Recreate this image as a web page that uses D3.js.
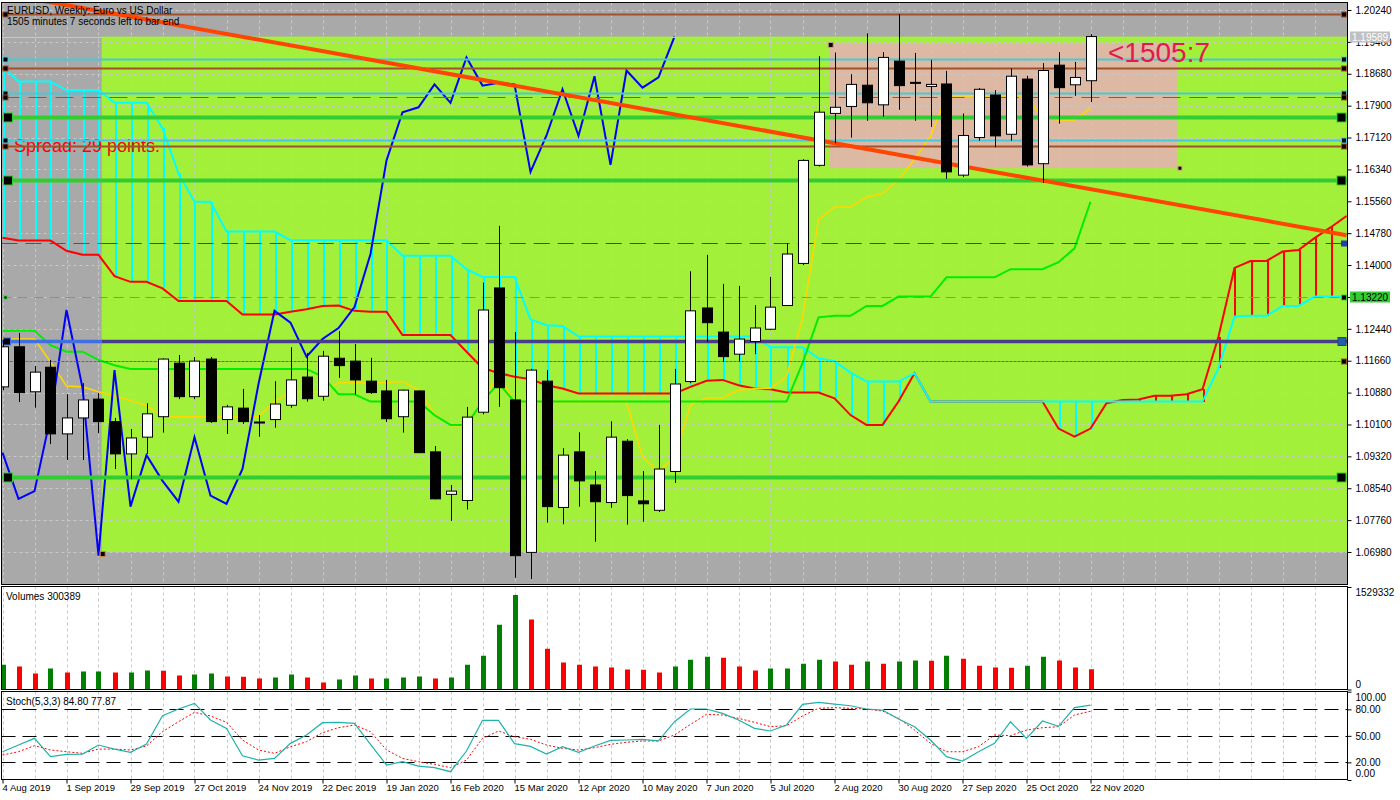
<!DOCTYPE html>
<html>
<head>
<meta charset="utf-8">
<script src="https://cdn.jsdelivr.net/npm/d3@7"></script>
<style>
  html, body { margin: 0; padding: 0; background: #fff; }
  svg { display: block; }
</style>
</head>
<body>
<svg id="chart" width="1400" height="800"></svg>
<script>
// ------- data (weekly EURUSD, bar 0 = 4 Aug 2019) -------
const dateLabels = ["4 Aug 2019","1 Sep 2019","29 Sep 2019","27 Oct 2019","24 Nov 2019","22 Dec 2019",
  "19 Jan 2020","16 Feb 2020","15 Mar 2020","12 Apr 2020","10 May 2020","7 Jun 2020","5 Jul 2020",
  "2 Aug 2020","30 Aug 2020","27 Sep 2020","25 Oct 2020","22 Nov 2020"];
const dateIdx = [0,4,8,12,16,20,24,28,32,36,40,44,48,52,56,60,64,68];

const opens = [1.1102,1.1200,1.1090,1.1150,1.0987,1.1026,1.1072,1.1017,1.0938,1.0979,
  1.1029,1.1160,1.1078,1.1170,1.1022,1.1050,1.1016,1.1022,1.1057,1.1126,
  1.1079,1.1172,1.1165,1.1116,1.1092,1.1029,1.1092,1.0943,1.0839,1.0824,
  1.1040,1.1344,1.1070,1.0697,1.1116,1.0807,1.0943,1.0862,1.0819,1.0969,
  1.0823,1.0800,1.0895,1.1115,1.1295,1.1236,1.1182,1.1213,1.1243,1.1301,
  1.1404,1.1644,1.1771,1.1788,1.1840,1.1792,1.1899,1.1847,1.1837,1.1843,
  1.1620,1.1712,1.1816,1.1720,1.1855,1.1648,1.1889,1.1841,1.1851];
const highs = [1.1217,1.1234,1.1153,1.1168,1.1084,1.1111,1.1087,1.1026,1.0999,1.1062,
  1.1172,1.1180,1.1175,1.1175,1.1058,1.1097,1.1033,1.1116,1.1199,1.1185,
  1.1190,1.1239,1.1207,1.1173,1.1119,1.1095,1.1093,1.0957,1.0862,1.1053,
  1.1357,1.1496,1.1236,1.1146,1.1143,1.0952,1.0991,1.0896,1.1018,1.0974,
  1.0896,1.1009,1.1146,1.1385,1.1425,1.1354,1.1349,1.1302,1.1371,1.1454,
  1.1659,1.1911,1.1920,1.1867,1.1967,1.1921,1.2014,1.1919,1.1902,1.1875,
  1.1771,1.1833,1.1828,1.1881,1.1863,1.1894,1.1921,1.1897,1.1965];
const lows = [1.1094,1.1065,1.1051,1.0962,1.0923,1.0923,1.0989,1.0901,1.0876,1.0938,
  1.0990,1.1072,1.1072,1.1014,1.0987,1.1011,1.0980,1.1002,1.1051,1.1066,
  1.1068,1.1124,1.1083,1.1085,1.1016,1.0990,1.0940,1.0827,1.0774,1.0802,
  1.1035,1.1053,1.0635,1.0632,1.0770,1.0766,1.0809,1.0723,1.0806,1.0765,
  1.0772,1.0796,1.0867,1.1111,1.1212,1.1163,1.1165,1.1182,1.1241,1.1300,
  1.1400,1.1641,1.1698,1.1712,1.1753,1.1763,1.1780,1.1753,1.1738,1.1611,
  1.1615,1.1704,1.1688,1.1704,1.1641,1.1601,1.1746,1.1814,1.1799];
const closes = [1.1200,1.1088,1.1138,1.0987,1.1026,1.1070,1.1017,1.0938,1.0977,1.1036,
  1.1170,1.1078,1.1165,1.1017,1.1053,1.1017,1.1015,1.1060,1.1119,1.1073,
  1.1177,1.1154,1.1119,1.1088,1.1024,1.1094,1.0941,1.0828,1.0847,1.1028,
  1.1290,1.1100,1.0689,1.1143,1.0809,1.0935,1.0872,1.0821,1.0979,1.0836,
  1.0816,1.0901,1.1109,1.1288,1.1259,1.1176,1.1219,1.1246,1.1297,1.1427,
  1.1656,1.1774,1.1786,1.1842,1.1797,1.1908,1.1839,1.1846,1.1842,1.1628,
  1.1717,1.1830,1.1716,1.1862,1.1645,1.1876,1.1834,1.1859,1.1959];

// ichimoku lines
const tenkan = [1.1219,1.1219,1.1219,1.1163,1.1104,1.1102,1.1090,1.1080,1.1068,1.1057,
  1.1029,1.1029,1.1029,1.1029,1.1029,1.1029,1.1029,1.1066,1.1090,1.1090,
  1.1090,1.1112,1.1112,1.1112,1.1112,1.1115,1.1094,1.1036,1.1007,1.1007,
  1.1066,1.1135,1.1065,1.1065,1.1065,1.1065,1.1065,1.1065,1.1065,1.1065,
  1.0931,1.0895,1.0931,1.1057,1.1075,1.1075,1.1094,1.1097,1.1099,1.1127,
  1.1270,1.1511,1.1542,1.1542,1.1566,1.1575,1.1608,1.1659,1.1715,1.1814,
  1.1814,1.1814,1.1814,1.1814,1.1814,1.1760,1.1755,1.1755,1.1783];
const kijun = [1.1239,1.1239,1.1239,1.1204,1.1188,1.1188,1.1168,1.1155,1.1146,1.1146,
  1.1146,1.1146,1.1146,1.1146,1.1146,1.1146,1.1146,1.1146,1.1146,1.1146,
  1.1127,1.1084,1.1084,1.1066,1.1066,1.1066,1.1066,1.1033,1.1009,1.1009,
  1.1066,1.1111,1.1066,1.1066,1.1066,1.1066,1.1066,1.1066,1.1066,1.1066,
  1.1066,1.1066,1.1066,1.1066,1.1066,1.1066,1.1066,1.1066,1.1066,1.1066,
  1.1160,1.1272,1.1276,1.1276,1.1300,1.1300,1.1323,1.1323,1.1323,1.1370,
  1.1370,1.1370,1.1370,1.1390,1.1390,1.1390,1.1407,1.1441,1.1555];
const spanA = [1.1467,1.1460,1.1460,1.1460,1.1435,1.1425,1.1425,1.1373,1.1359,1.1359,
  1.1343,1.1312,1.1312,1.1312,1.1312,1.1279,1.1279,1.1279,1.1286,1.1292,
  1.1300,1.1301,1.1288,1.1286,1.1286,1.1229,1.1229,1.1229,1.1229,1.1188,
  1.1148,1.1136,1.1127,1.1121,1.1106,1.1098,1.1086,1.1086,1.1086,1.1086,
  1.1086,1.1086,1.1086,1.1102,1.1117,1.1119,1.1106,1.1098,1.1096,1.1088,
  1.1088,1.1088,1.1074,1.1033,1.1009,1.1009,1.1066,1.1135,1.1066,1.1066,
  1.1066,1.1066,1.1066,1.1066,1.1066,1.1066,1.1000,1.0980,1.1000,1.1062,
  1.1070,1.1071,1.1080,1.1080,1.1084,1.1096,1.1225,1.1393,1.1410,1.1410,
  1.1433,1.1437,1.1466,1.1492,1.1520];
const spanB = [1.1885,1.1849,1.1849,1.1849,1.1828,1.1828,1.1828,1.1797,1.1797,1.1797,
  1.1735,1.1624,1.1555,1.1555,1.1482,1.1482,1.1482,1.1482,1.1461,1.1461,
  1.1461,1.1461,1.1461,1.1461,1.1461,1.1423,1.1423,1.1423,1.1423,1.1390,
  1.1371,1.1371,1.1371,1.1267,1.1253,1.1251,1.1225,1.1225,1.1225,1.1225,
  1.1225,1.1225,1.1225,1.1225,1.1225,1.1225,1.1225,1.1225,1.1199,1.1199,
  1.1199,1.1172,1.1165,1.1137,1.1115,1.1115,1.1115,1.1135,1.1066,1.1066,
  1.1066,1.1066,1.1066,1.1066,1.1066,1.1066,1.1066,1.1066,1.1066,1.1066,
  1.1066,1.1066,1.1066,1.1066,1.1066,1.1066,1.1148,1.1274,1.1276,1.1276,
  1.1300,1.1300,1.1323,1.1323,1.1323];
const chikouShift = 26;

const volumes = [371000,342000,238000,312000,252000,267000,268000,252000,253000,282000,
  281000,208000,223000,238000,193000,192000,163000,178000,223000,178000,
  104000,148000,208000,163000,164000,178000,193000,163000,178000,371000,
  505000,965000,1411000,1044000,609000,401000,371000,342000,327000,297000,
  296000,252000,342000,445000,490000,475000,342000,282000,312000,313000,
  386000,445000,416000,371000,416000,386000,416000,431000,430000,505000,
  460000,356000,327000,326000,356000,490000,431000,327000,300389];
const volMax = 1529332;

const stochMain = [32,39.6,47.2,26.4,29,29.4,39.6,35,31.3,40.8,
  72.8,80.4,86.8,68,58.5,27.5,22.6,24.5,41.5,51,
  64.9,65.3,64.2,40.4,17,20.7,15.8,14,9.4,32.8,
  67.6,67.6,41.1,38.1,29.4,37.7,31.3,38.5,44.9,45.3,
  46.1,44.2,66,80.4,80.4,75.5,68,58.5,55.5,62.3,
  85.7,88,86,84.1,80.4,79.2,69.1,60.4,45.3,26.4,
  21.5,32,41.5,66,47.2,66.8,60.8,81.9,84.8];
const stochSignal = [28.3,32,38.9,34,32,30.2,35,35,34,38.5,
  54.7,66,76.6,72.5,65.3,45.3,34,30.2,37.7,43.4,
  53.6,59.2,62.3,54.7,34,24.5,20.7,17.7,14,22.6,
  47.2,55.5,49,46.1,39.6,35.9,34,36.6,40.4,42.7,
  44.2,44.2,51,63,74.4,73.6,69.8,65.3,60.4,61.5,
  72.5,81.2,81.9,81.2,80.4,78.1,69.8,56.6,41.5,32,
  32,37.7,51,50.2,56.6,59.2,60.4,73.6,77.87];
const stochLevels = [20, 50, 80];
const stochTicks = [0, 20, 50, 80, 100];

const priceTicks = [1.0698,1.0776,1.0854,1.0932,1.1010,1.1088,1.1166,1.1244,1.1322,
  1.1400,1.1478,1.1556,1.1634,1.1712,1.1790,1.1868,1.1946,1.2024];

// chart objects
const hLevels = [1.2014,1.1904,1.1882,1.1821,1.1812,1.1762,1.1706,1.1692,1.1608,1.1453,1.1322,1.1213,1.1166,1.0882];
const hKinds  = ["brown","cyan","brown","cyan","brownDash","green","cyan","brown","green","darkDash","greenDash","purple","brownDot","green"];
const trendPts = [[2, 1.2050], [84, 1.1473]];
const greenZone = [6.2, 1.0698, 1.19589];        // from bar, low, high
const boxZone = [51.7, 73.4, 1.1637, 1.1941];    // from bar, to bar, low, high
const bidPrice = 1.19589;
const markedPrice = 1.1322;

// ------- layout -------
const svg = d3.select("#chart");
const FONT = "'Liberation Sans', Arial, sans-serif";
const PX0 = 1.5, PX1 = 1347.5;
const mainTop = 2.5, mainBot = 584.5, volTop = 586.5, volBot = 689.5, stTop = 691.5, stBot = 779.5;

const x = d3.scaleLinear().domain([0, 84]).range([2.5, 1346.5]);
const y = d3.scaleLinear().domain([1.0698, 1.2024]).range([552, 10]);
const yv = d3.scaleLinear().domain([0, volMax]).range([689.5, 587]);
const ys = d3.scaleLinear().domain([0, 100]).range([780, 691.7]);
const px = v => Math.round(v) + 0.5;

svg.append("rect").attr("width", 1400).attr("height", 800).attr("fill", "#fff");

const defs = svg.append("defs");
const clip = (id, top, bot) => defs.append("clipPath").attr("id", id)
  .append("rect").attr("x", PX0).attr("y", top).attr("width", PX1 - PX0).attr("height", bot - top);
clip("cMain", mainTop, mainBot);
clip("cVol", volTop, volBot);
clip("cSt", stTop, stBot);

// ===== main panel =====
const gm = svg.append("g").attr("clip-path", "url(#cMain)");
gm.append("rect").attr("x", PX0).attr("y", mainTop).attr("width", PX1 - PX0).attr("height", mainBot - mainTop)
  .attr("fill", "#a9a9a9");
gm.append("rect")
  .attr("x", x(greenZone[0])).attr("y", y(greenZone[2]))
  .attr("width", PX1 - x(greenZone[0])).attr("height", y(greenZone[1]) - y(greenZone[2]))
  .attr("fill", "#a3f03b");
gm.append("rect")
  .attr("x", x(boxZone[0])).attr("y", y(boxZone[3]))
  .attr("width", x(boxZone[1]) - x(boxZone[0])).attr("height", y(boxZone[2]) - y(boxZone[3]))
  .attr("fill", "#ddb8a2");

// grid
const gridX = d3.range(0, 85, 2);
const gridStyle = s => s.attr("stroke", "#c8c8c8").attr("stroke-width", 1).attr("stroke-dasharray", "3,3");
gm.selectAll("line.hg").data(priceTicks).enter().append("line")
  .attr("x1", PX0).attr("x2", PX1).attr("y1", d => px(y(d))).attr("y2", d => px(y(d)))
  .call(gridStyle);
[["cMain", mainTop, mainBot], ["cVol", volTop, volBot], ["cSt", stTop, stBot]].forEach(([id, t, b]) => {
  svg.append("g").attr("clip-path", `url(#${id})`).selectAll("line").data(gridX).enter().append("line")
    .attr("x1", d => px(x(d))).attr("x2", d => px(x(d)))
    .attr("y1", t).attr("y2", b).call(gridStyle);
});

// ichimoku cloud hatch
const gi = svg.append("g").attr("clip-path", "url(#cMain)");
gi.selectAll("line.hatch").data(spanA.map((a, i) => ({ i, a, b: spanB[i] }))).enter().append("line")
  .attr("x1", d => px(x(d.i))).attr("x2", d => px(x(d.i)))
  .attr("y1", d => y(d.a)).attr("y2", d => y(d.b))
  .attr("stroke", d => d.b > d.a ? "#00ffff" : "#ff0000").attr("stroke-width", 2)
  .attr("shape-rendering", "crispEdges");

const lineOf = arr => d3.line().x((d, i) => x(i)).y(d => y(d))(arr);
gi.append("path").attr("d", lineOf(spanA)).attr("fill", "none").attr("stroke", "#ff0000").attr("stroke-width", 2);
gi.append("path").attr("d", lineOf(spanB)).attr("fill", "none").attr("stroke", "#00ffff").attr("stroke-width", 2);
gi.append("path").attr("d", lineOf(tenkan)).attr("fill", "none").attr("stroke", "#ffd700").attr("stroke-width", 1.6);
gi.append("path").attr("d", lineOf(kijun)).attr("fill", "none").attr("stroke", "#00ee00").attr("stroke-width", 2);
gi.append("path").attr("d", lineOf(closes.slice(chikouShift))).attr("fill", "none")
  .attr("stroke", "#0000ff").attr("stroke-width", 2);

// spread text (under the object lines)
gi.append("text").attr("x", 14).attr("y", 152).attr("fill", "#ff0000")
  .style("font-family", FONT).style("font-size", "18px").text("Spread: 29 points.");

// horizontal object lines
const go = svg.append("g").attr("clip-path", "url(#cMain)");
const kindStyle = {
  brown:     { c: "#a0522d", w: 2, dash: null },
  cyan:      { c: "#48c8d8", w: 2, dash: null },
  brownDash: { c: "#a0522d", w: 1, dash: "18,9" },
  green:     { c: "#32cd32", w: 4, dash: null },
  darkDash:  { c: "#45426e", w: 1.2, dash: "16,8", left: "#3050d0" },
  greenDash: { c: "#32cd32", w: 1, dash: "10,6" },
  purple:    { c: "#483d8b", w: 3.5, dash: null, left: "#4070e0" },
  brownDot:  { c: "#a0522d", w: 1, dash: "3,1" }
};
hLevels.forEach((p, k) => {
  const st = kindStyle[hKinds[k]];
  const yy = px(y(p));
  const seg = (x1, x2, col) => go.append("line").attr("x1", x1).attr("x2", x2).attr("y1", yy).attr("y2", yy)
    .attr("stroke", col).attr("stroke-width", st.w).attr("stroke-dasharray", st.dash);
  if (st.left) { seg(PX0, x(greenZone[0]), st.left); seg(x(greenZone[0]), PX1, st.c); }
  else seg(PX0, PX1, st.c);
});

// bid line
go.append("line").attr("x1", PX0).attr("x2", PX1)
  .attr("y1", px(y(bidPrice))).attr("y2", px(y(bidPrice)))
  .attr("stroke", "#c8c8c8").attr("stroke-width", 1);

// trend line
go.append("path").attr("d", d3.line().x(d => x(d[0])).y(d => y(d[1]))(trendPts))
  .attr("fill", "none").attr("stroke", "#ff4500").attr("stroke-width", 4);

// candles
const gc = svg.append("g").attr("clip-path", "url(#cMain)");
const bars = opens.map((o, i) => ({ i, o, h: highs[i], l: lows[i], c: closes[i] }));
gc.selectAll("line.wick").data(bars).enter().append("line")
  .attr("x1", d => px(x(d.i))).attr("x2", d => px(x(d.i)))
  .attr("y1", d => y(d.h)).attr("y2", d => y(d.l))
  .attr("stroke", "#000").attr("stroke-width", 1);
gc.selectAll("rect.body").data(bars).enter().append("rect")
  .attr("x", d => Math.round(x(d.i)) - 4.5)
  .attr("y", d => y(Math.max(d.o, d.c)))
  .attr("width", 10)
  .attr("height", d => Math.max(1, y(Math.min(d.o, d.c)) - y(Math.max(d.o, d.c))))
  .attr("fill", d => d.c >= d.o ? "#fff" : "#000")
  .attr("stroke", "#000").attr("stroke-width", 1);

// anchor markers of the objects
const sq = (cx, cy, s, fill, stroke) => go.append("rect")
  .attr("x", cx - s / 2).attr("y", cy - s / 2).attr("width", s).attr("height", s)
  .attr("fill", fill).attr("stroke", stroke).attr("stroke-width", 1);
hLevels.forEach((p, k) => {
  const kind = hKinds[k];
  const st = kindStyle[kind];
  const yy = px(y(p));
  if (kind === "green") { sq(8, yy, 9, "#000", "#32cd32"); sq(1341.5, yy, 9, "#000", "#32cd32"); }
  else if (kind === "purple") { sq(7, yy, 7, "#000", "#4070e0"); sq(1342, yy, 8, "#1f5fa8", "#2a3f80"); }
  else if (kind === "darkDash") { sq(1344, yy, 5, "#2040b0", "#2040b0"); }
  else if (kind === "greenDash") { sq(5.5, yy, 3, "#000", "#32cd32"); sq(1344, yy, 5, "#000", "#32cd32"); }
  else { sq(5.5, yy, 5, "#000", st.c); sq(1344, yy, 5, "#000", st.c); }
});
sq(x(greenZone[0]) + 1, y(greenZone[1]) + 2, 5, "#000", "#d08040");
sq(x(boxZone[0]) + 1, y(boxZone[3]) + 1, 5, "#000", "#d0a080");
sq(x(boxZone[1]) + 3, y(boxZone[2]), 4, "#000", "#d0a080");

// texts
const txt = (g, xx, yy, s, size, col) => g.append("text").attr("x", xx).attr("y", yy)
  .attr("fill", col || "#000").style("font-family", FONT).style("font-size", size + "px").text(s);
txt(svg, 7, 14, "EURUSD, Weekly:  Euro vs US Dollar", 10);
txt(svg, 7, 24.5, "1505 minutes 7 seconds left to bar end", 10);
txt(svg, 1108, 62, "<1505:7", 28, "#e31b4b");

// ===== volume panel =====
const gv = svg.append("g").attr("clip-path", "url(#cVol)");
gv.selectAll("line.vol").data(volumes).enter().append("line")
  .attr("x1", (d, i) => px(x(i))).attr("x2", (d, i) => px(x(i)))
  .attr("y1", yv(0)).attr("y2", d => yv(d))
  .attr("stroke", (d, i) => (i === 0 || d > volumes[i - 1]) ? "#008000" : "#ff0000")
  .attr("stroke-width", 5);
txt(svg, 6, 599.5, "Volumes 300389", 10);

// ===== stochastic panel =====
const gs = svg.append("g").attr("clip-path", "url(#cSt)");
gs.selectAll("line.lvl").data(stochLevels).enter().append("line")
  .attr("x1", PX0).attr("x2", PX1).attr("y1", d => px(ys(d))).attr("y2", d => px(ys(d)))
  .attr("stroke", "#000").attr("stroke-width", 1).attr("stroke-dasharray", "14,7");
const sLine = d3.line().x((d, i) => x(i)).y(d => ys(d));
gs.append("path").attr("d", sLine(stochSignal)).attr("fill", "none")
  .attr("stroke", "#ff0000").attr("stroke-width", 1).attr("stroke-dasharray", "2,2");
gs.append("path").attr("d", sLine(stochMain)).attr("fill", "none")
  .attr("stroke", "#20b2aa").attr("stroke-width", 1.2);
txt(svg, 6, 705, "Stoch(5,3,3) 84.80 77.87", 10);

// panel borders
[[mainTop, mainBot], [volTop, volBot], [stTop, stBot]].forEach(([t, b]) => {
  svg.append("rect").attr("x", PX0).attr("y", t).attr("width", PX1 - PX0).attr("height", b - t)
    .attr("fill", "none").attr("stroke", "#000").attr("stroke-width", 1);
});

// ===== axes =====
const styleAxis = g => {
  g.select(".domain").remove();
  g.selectAll("line").attr("stroke", "#000");
  g.selectAll("text").style("font-family", FONT).style("font-size", "10px").attr("fill", "#000");
};
const gpa = svg.append("g").attr("transform", `translate(${PX1},0)`)
  .call(d3.axisRight(y).tickValues(priceTicks).tickFormat(d3.format(".5f")).tickSize(4).tickPadding(4))
  .call(styleAxis);
// the marked level tag replaces its plain label
gpa.selectAll(".tick text").filter(d => Math.abs(d - markedPrice) < 1e-6).remove();

const gva = svg.append("g").attr("transform", `translate(${PX1},0)`)
  .call(d3.axisRight(yv).tickValues([0, volMax]).tickFormat(d3.format("d")).tickSize(4).tickPadding(4))
  .call(styleAxis);
gva.selectAll("text").attr("dy", d => d === 0 ? "-0.2em" : "0.8em");

const gsa = svg.append("g").attr("transform", `translate(${PX1},0)`)
  .call(d3.axisRight(ys).tickValues(stochTicks).tickFormat(d3.format(".2f")).tickSize(4).tickPadding(4))
  .call(styleAxis);
gsa.selectAll("text").attr("dy", d => d === 100 ? "0.85em" : d === 0 ? "-0.4em" : "0.32em");

const gda = svg.append("g").attr("transform", `translate(0,${stBot})`)
  .call(d3.axisBottom(x).tickValues(dateIdx).tickFormat((d, k) => dateLabels[k]).tickSize(4).tickPadding(1))
  .call(styleAxis);
gda.selectAll("text").attr("text-anchor", "start").attr("dx", "-0.05em").style("font-size", "9.5px");

// highlighted price labels
const priceTag = (p, bg, fg) => {
  const yy = Math.round(y(p));
  svg.append("rect").attr("x", 1350).attr("y", yy - 5.5).attr("width", 40).attr("height", 11).attr("fill", bg);
  svg.append("text").attr("x", 1352).attr("y", yy + 3.5).attr("fill", fg)
    .style("font-family", FONT).style("font-size", "10px").text(d3.format(".5f")(p));
};
priceTag(bidPrice, "#c0c0c0", "#fff");
priceTag(markedPrice, "#32cd32", "#000");
</script>
</body>
</html>
